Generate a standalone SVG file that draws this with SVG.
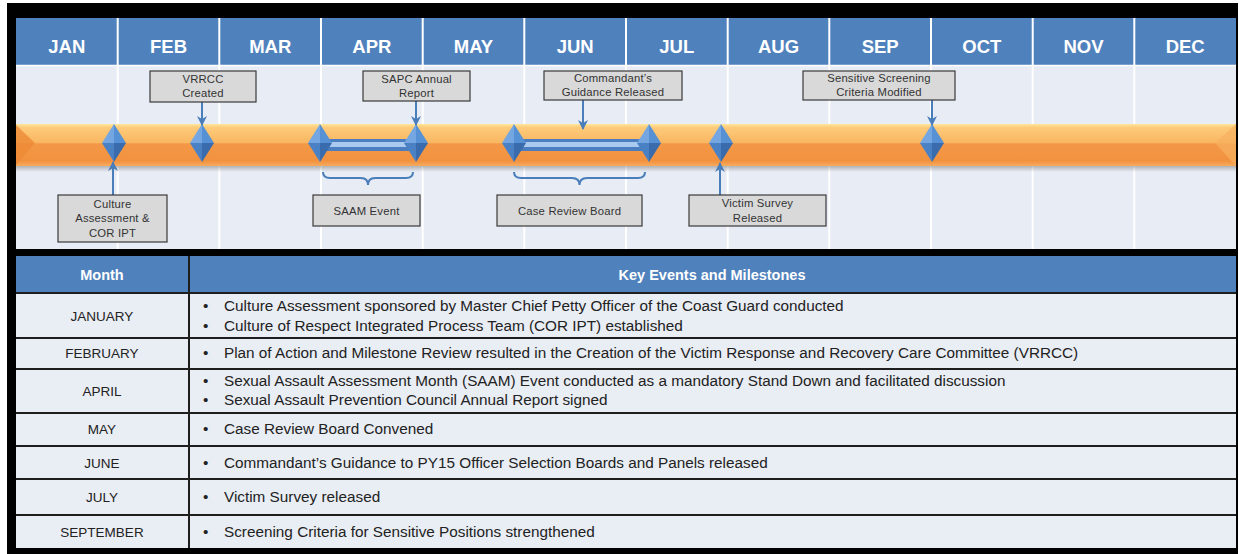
<svg xmlns="http://www.w3.org/2000/svg" width="1239" height="554" viewBox="0 0 1239 554">
<style>
.mon{font-family:"Liberation Sans",Arial,sans-serif;font-weight:bold;font-size:18.5px;fill:#fff;text-anchor:middle}
.box{fill:#D9D9D9;stroke:#3a3a3a;stroke-width:1.2}
.ct{font-family:"Liberation Sans",Arial,sans-serif;font-size:11.3px;fill:#333;text-anchor:middle;letter-spacing:0.2px}
.arr{stroke:#4A7EBB;stroke-width:2;fill:none;marker-end:url(#ah)}
.brace{stroke:#4A7EBB;stroke-width:2;fill:none}
.th{font-family:"Liberation Sans",Arial,sans-serif;font-weight:bold;font-size:14.5px;fill:#fff;text-anchor:middle}
.tm{font-family:"Liberation Sans",Arial,sans-serif;font-size:13.5px;fill:#222;text-anchor:middle}
.tx{font-family:"Liberation Sans",Arial,sans-serif;font-size:15.3px;fill:#222}
.row{fill:#E9EDF4}
.sep{stroke:#1e1e1e;stroke-width:2}
.vd{stroke:#fff;stroke-width:2}
</style>
<defs>
<linearGradient id="og" x1="0" y1="0" x2="0" y2="1">
<stop offset="0" stop-color="#FFE79A"/>
<stop offset="0.08" stop-color="#FDCB7B"/>
<stop offset="0.45" stop-color="#F9B661"/>
<stop offset="0.47" stop-color="#F39847"/>
<stop offset="0.88" stop-color="#F2923F"/>
<stop offset="1" stop-color="#F6AC60"/>
</linearGradient>
<linearGradient id="sh" x1="0" y1="0" x2="0" y2="1">
<stop offset="0" stop-color="#8a8a8a" stop-opacity="0.6"/>
<stop offset="1" stop-color="#8a8a8a" stop-opacity="0"/>
</linearGradient>
<g id="dia">
<polygon points="0,-19 -12,0 0,0" fill="#74A6E2"/>
<polygon points="0,-19 12,0 0,0" fill="#5690D5"/>
<polygon points="-12,0 0,19 0,0" fill="#4A80C4"/>
<polygon points="12,0 0,19 0,0" fill="#3A6CAD"/>
</g>
<marker id="ah" viewBox="0 0 10 10" refX="9" refY="5" markerWidth="5" markerHeight="5" orient="auto" markerUnits="strokeWidth">
<path d="M0,0 L10,5 L0,10 L3,5 z" fill="#4A7EBB"/>
</marker>
</defs>
<rect x="0" y="0" width="1239" height="554" fill="#fff"/>
<rect x="7" y="3" width="1231" height="551" fill="#000"/>
<!-- timeline background -->
<rect x="16" y="18" width="1220" height="47" fill="#4F81BD"/>
<rect x="16" y="66" width="1220" height="183" fill="#E8ECF4"/>
<line x1="16" y1="65.5" x2="1236" y2="65.5" stroke="#fff" stroke-width="1.5"/>
<g id="dividers">
<line class="vd" x1="117.7" y1="18" x2="117.7" y2="249"/>
<line class="vd" x1="219.3" y1="18" x2="219.3" y2="249"/>
<line class="vd" x1="321" y1="18" x2="321" y2="249"/>
<line class="vd" x1="422.7" y1="18" x2="422.7" y2="249"/>
<line class="vd" x1="524.3" y1="18" x2="524.3" y2="249"/>
<line class="vd" x1="626" y1="18" x2="626" y2="249"/>
<line class="vd" x1="727.7" y1="18" x2="727.7" y2="249"/>
<line class="vd" x1="829.3" y1="18" x2="829.3" y2="249"/>
<line class="vd" x1="931" y1="18" x2="931" y2="249"/>
<line class="vd" x1="1032.7" y1="18" x2="1032.7" y2="249"/>
<line class="vd" x1="1134.3" y1="18" x2="1134.3" y2="249"/>
</g>
<g id="months">
<text class="mon" x="66.8" y="53">JAN</text>
<text class="mon" x="168.5" y="53">FEB</text>
<text class="mon" x="270.2" y="53">MAR</text>
<text class="mon" x="371.8" y="53">APR</text>
<text class="mon" x="473.5" y="53">MAY</text>
<text class="mon" x="575.2" y="53">JUN</text>
<text class="mon" x="676.8" y="53">JUL</text>
<text class="mon" x="778.5" y="53">AUG</text>
<text class="mon" x="880.2" y="53">SEP</text>
<text class="mon" x="981.8" y="53">OCT</text>
<text class="mon" x="1083.5" y="53">NOV</text>
<text class="mon" x="1185.2" y="53">DEC</text>
</g>
<!-- orange bar -->
<g id="timeline-bar">
<rect x="16" y="166" width="1220" height="6" fill="url(#sh)"/>
<rect x="16" y="124" width="1220" height="42" fill="url(#og)"/>
<polygon points="16,125 35,143 16,165" fill="#EE8A36" opacity="0.8"/>
<polygon points="1236,124 1215,143 1236,166" fill="#F7B060" opacity="0.7"/>
</g>
<!-- span bars -->
<g id="span-apr">
<rect x="320" y="139" width="96" height="12" fill="#4A7EC0"/>
<rect x="320" y="142" width="96" height="5" fill="#A9C9EE"/>
</g>
<g id="span-jun">
<rect x="514" y="139" width="135" height="12" fill="#4A7EC0"/>
<rect x="514" y="142" width="135" height="5" fill="#A9C9EE"/>
</g>
<g id="milestones">
<use href="#dia" x="114" y="143"/>
<use href="#dia" x="202" y="143"/>
<use href="#dia" x="320" y="143"/>
<use href="#dia" x="416" y="143"/>
<use href="#dia" x="514" y="143"/>
<use href="#dia" x="649" y="143"/>
<use href="#dia" x="721" y="143"/>
<use href="#dia" x="932" y="143"/>
</g>
<g id="connectors">
<line class="arr" x1="202" y1="102" x2="202" y2="125"/>
<line class="arr" x1="416" y1="101" x2="416" y2="125"/>
<line class="arr" x1="583" y1="100" x2="583" y2="129"/>
<line class="arr" x1="932" y1="100" x2="932" y2="125"/>
<line class="arr" x1="113" y1="195" x2="113" y2="162"/>
<line class="arr" x1="720" y1="195" x2="720" y2="163"/>
<path class="brace" d="M323,172 Q323,178 330,178 L361,178 Q368,178 368,185 Q368,178 375,178 L406,178 Q413,178 413,172"/>
<path class="brace" d="M514,172 Q514,178 521,178 L572,178 Q579.5,178 579.5,185 Q579.5,178 587,178 L638,178 Q645,178 645,172"/>
</g>
<g id="c-vrrcc"><rect class="box" x="150" y="71" width="106" height="31"/><text class="ct" x="203" y="83">VRRCC</text><text class="ct" x="203" y="97">Created</text></g>
<g id="c-sapc"><rect class="box" x="363" y="71" width="107" height="30"/><text class="ct" x="416.5" y="83">SAPC Annual</text><text class="ct" x="416.5" y="97">Report</text></g>
<g id="c-cmdt"><rect class="box" x="544" y="71" width="138" height="29"/><text class="ct" x="613" y="82">Commandant’s</text><text class="ct" x="613" y="96">Guidance Released</text></g>
<g id="c-sens"><rect class="box" x="803" y="71" width="152" height="29"/><text class="ct" x="879" y="82">Sensitive Screening</text><text class="ct" x="879" y="96">Criteria Modified</text></g>
<g id="c-culture"><rect class="box" x="58" y="195" width="109" height="47"/><text class="ct" x="112.5" y="208">Culture</text><text class="ct" x="112.5" y="222">Assessment &amp;</text><text class="ct" x="112.5" y="237">COR IPT</text></g>
<g id="c-saam"><rect class="box" x="313" y="195" width="107" height="31"/><text class="ct" x="366.5" y="215">SAAM Event</text></g>
<g id="c-crb"><rect class="box" x="497" y="195" width="145" height="31"/><text class="ct" x="569.5" y="215">Case Review Board</text></g>
<g id="c-victim"><rect class="box" x="689" y="195" width="137" height="31"/><text class="ct" x="757.5" y="207">Victim Survey</text><text class="ct" x="757.5" y="222">Released</text></g>
<!-- table -->
<g id="table">
<rect x="16" y="256" width="1220" height="37" fill="#4F81BD"/>
<rect class="row" x="16" y="293" width="1220" height="255"/>
<line x1="189" y1="256" x2="189" y2="293" stroke="#1e1e1e" stroke-width="2"/>
<line class="sep" x1="189" y1="293" x2="189" y2="548"/>
<line class="sep" x1="16" y1="293" x2="1236" y2="293"/>
<line class="sep" x1="16" y1="338" x2="1236" y2="338"/>
<line class="sep" x1="16" y1="369" x2="1236" y2="369"/>
<line class="sep" x1="16" y1="413" x2="1236" y2="413"/>
<line class="sep" x1="16" y1="446" x2="1236" y2="446"/>
<line class="sep" x1="16" y1="479" x2="1236" y2="479"/>
<line class="sep" x1="16" y1="515" x2="1236" y2="515"/>
<text class="th" x="102" y="280">Month</text>
<text class="th" x="712" y="280">Key Events and Milestones</text>
<text class="tm" x="102" y="321">JANUARY</text>
<text class="tm" x="102" y="358">FEBRUARY</text>
<text class="tm" x="102" y="396">APRIL</text>
<text class="tm" x="102" y="434">MAY</text>
<text class="tm" x="102" y="468">JUNE</text>
<text class="tm" x="102" y="502">JULY</text>
<text class="tm" x="102" y="537">SEPTEMBER</text>
<g class="tx">
<text x="203" y="311">•</text><text x="224" y="311">Culture Assessment sponsored by Master Chief Petty Officer of the Coast Guard conducted</text>
<text x="203" y="331">•</text><text x="224" y="331">Culture of Respect Integrated Process Team (COR IPT) established</text>
<text x="203" y="358">•</text><text x="224" y="358">Plan of Action and Milestone Review resulted in the Creation of the Victim Response and Recovery Care Committee (VRRCC)</text>
<text x="203" y="386">•</text><text x="224" y="386">Sexual Assault Assessment Month (SAAM) Event conducted as a mandatory Stand Down and facilitated discussion</text>
<text x="203" y="405">•</text><text x="224" y="405">Sexual Assault Prevention Council Annual Report signed</text>
<text x="203" y="434">•</text><text x="224" y="434">Case Review Board Convened</text>
<text x="203" y="468">•</text><text x="224" y="468">Commandant’s Guidance to PY15 Officer Selection Boards and Panels released</text>
<text x="203" y="502">•</text><text x="224" y="502">Victim Survey released</text>
<text x="203" y="537">•</text><text x="224" y="537">Screening Criteria for Sensitive Positions strengthened</text>
</g>
</g>
</svg>
